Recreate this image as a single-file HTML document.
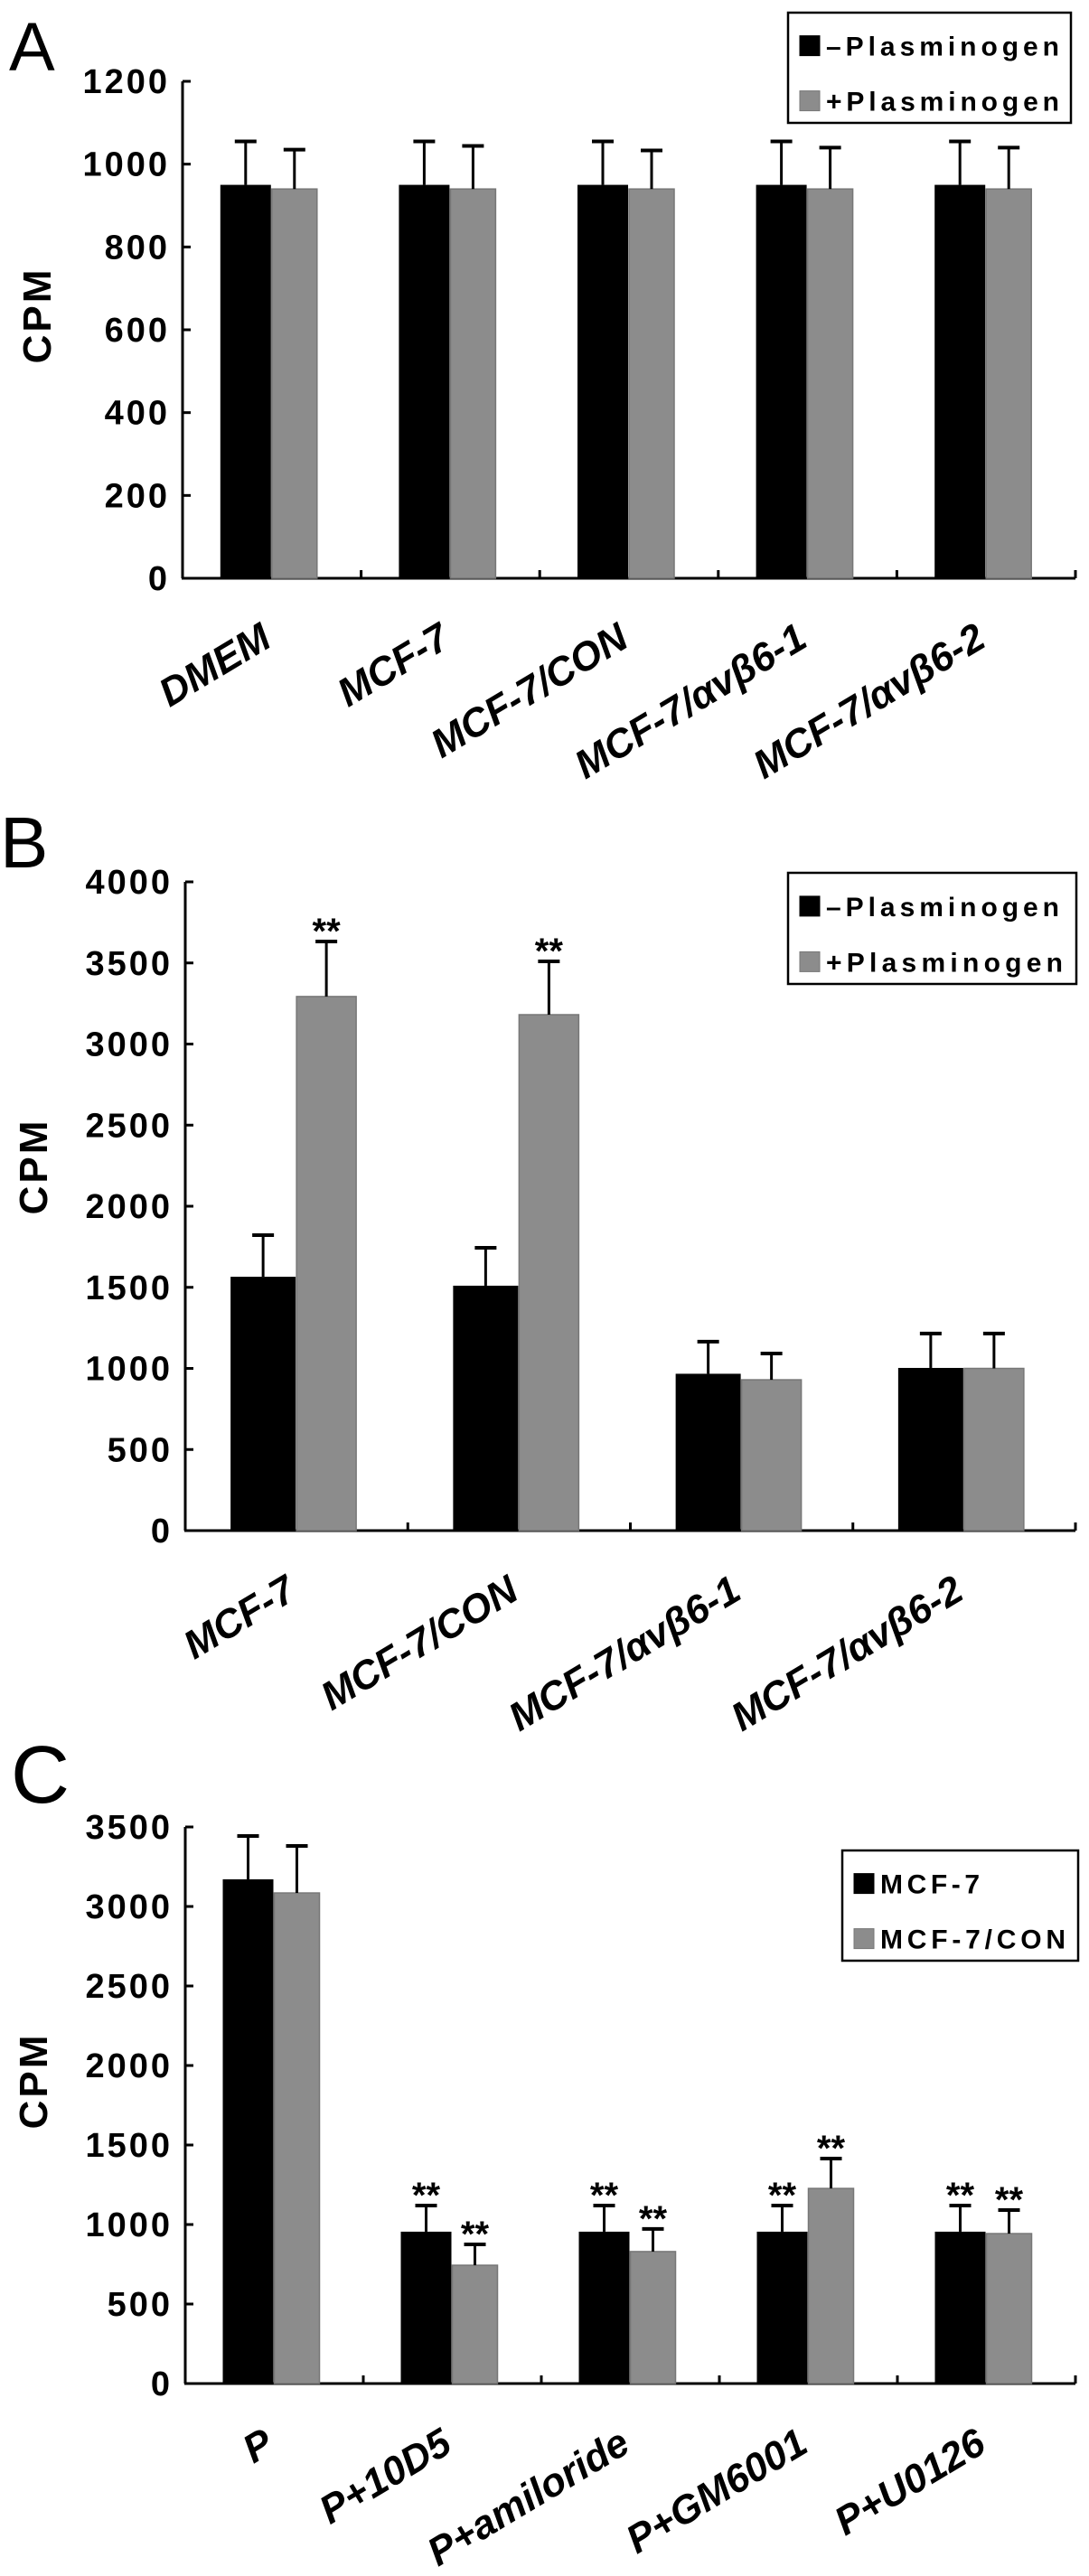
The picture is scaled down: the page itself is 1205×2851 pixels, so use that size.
<!DOCTYPE html>
<html><head><meta charset="utf-8"><style>
html,body{margin:0;padding:0;background:#fff;}
svg{display:block;font-family:"Liberation Sans",Arial,sans-serif;}
</style></head><body>
<svg id="fig" width="1205" height="2851" viewBox="0 0 1205 2851" xmlns="http://www.w3.org/2000/svg">
<text x="10" y="78" font-size="76">A</text>
<text x="0" y="960" font-size="80">B</text>
<text x="12" y="1995" font-size="90">C</text>
</svg>
<script>
// Panel A data
const catsA = ["DMEM","MCF-7","MCF-7/CON","MCF-7/\u03b1v\u03b26-1","MCF-7/\u03b1v\u03b26-2"];
const minusA = [950,950,950,950,950];
const minusErrA = [1055,1055,1055,1055,1055];
const plusA = [940,940,940,940,940];
const plusErrA = [1035,1044,1033,1040,1040];
const starsMinusA = [0,0,0,0,0];
const starsPlusA = [0,0,0,0,0];
const ticksA = [0,200,400,600,800,1000,1200];
const legendA = ["\u2013Plasminogen","+Plasminogen"];
// Panel B data
const catsB = ["MCF-7","MCF-7/CON","MCF-7/\u03b1v\u03b26-1","MCF-7/\u03b1v\u03b26-2"];
const minusB = [1565,1510,967,1003];
const minusErrB = [1822,1744,1165,1215];
const plusB = [3293,3181,930,1000];
const plusErrB = [3632,3510,1092,1215];
const starsMinusB = [0,0,0,0];
const starsPlusB = [1,1,0,0];
const ticksB = [0,500,1000,1500,2000,2500,3000,3500,4000];
const legendB = ["\u2013Plasminogen","+Plasminogen"];
// Panel C data
const catsC = ["P","P+10D5","P+amiloride","P+GM6001","P+U0126"];
const minusC = [3171,955,955,955,955];
const minusErrC = [3443,1119,1119,1119,1119];
const plusC = [3085,744,830,1227,943];
const plusErrC = [3381,875,972,1415,1091];
const starsMinusC = [0,1,1,1,1];
const starsPlusC = [0,1,1,1,1];
const ticksC = [0,500,1000,1500,2000,2500,3000,3500];
const legendC = ["MCF-7","MCF-7/CON"];

const NS="http://www.w3.org/2000/svg";
const svg=document.getElementById('fig');
function mk(tag,attrs,parent){const e=document.createElementNS(NS,tag);for(const k in attrs)e.setAttribute(k,attrs[k]);(parent||svg).appendChild(e);return e;}

function panel(p){
  const g=mk('g',{});
  
  
  const ymax=p.ticks[p.ticks.length-1];
  const y=v=>p.y0-(v/ymax)*(p.y0-p.yTop);
  const n=p.cats.length, gw=(p.xEnd-p.x0)/n;
  const cx=i=>p.x0+gw*(i+0.5);
  const ya=mk('line',{x1:p.x0,y1:p.yTop,x2:p.x0,y2:p.y0,stroke:'#000','stroke-width':3},g);
  
  
  const xa=mk('line',{x1:p.x0-1,y1:p.y0,x2:p.xEnd,y2:p.y0,stroke:'#000','stroke-width':3},g);
  
  
  p.ticks.forEach(t=>{
    mk('line',{x1:p.x0,y1:y(t),x2:p.x0+9,y2:y(t),stroke:'#000','stroke-width':3},g);
    const tl=mk('text',{x:p.x0-14,y:y(t)+13,'text-anchor':'end','font-size':38,'font-weight':'bold','letter-spacing':3},g);
    
    
    tl.textContent=t;
  });
  for(let i=1;i<=n;i++){mk('line',{x1:p.x0+gw*i,y1:p.y0,x2:p.x0+gw*i,y2:p.y0-9,stroke:'#000','stroke-width':3},g);}
  const yt=mk('text',{x:0,y:0,'text-anchor':'middle','font-size':44,'font-weight':'bold','letter-spacing':3,transform:`translate(${p.titleX},${p.titleY}) rotate(-90)`},g);
  
  
  yt.textContent='CPM';
  const bw=p.bw;
  function errbar(x,top,v){
    mk('line',{x1:x,y1:y(v),x2:x,y2:y(top),stroke:'#000','stroke-width':3},g);
    mk('line',{x1:x-12,y1:y(top),x2:x+12,y2:y(top),stroke:'#000','stroke-width':4},g);
  }
  function star(x,top){
    const s=mk('text',{x:x,y:y(top)+2,'text-anchor':'middle','font-size':40,'font-weight':'bold'},g);
    
    
    s.textContent='**';
  }
  p.cats.forEach((c,i)=>{
    const c0=cx(i);
    const b1=mk('rect',{x:c0-bw-1,y:y(p.minus[i]),width:bw,height:p.y0-y(p.minus[i]),fill:'#000'},g);
    
    
    const b2=mk('rect',{x:c0,y:y(p.plus[i]),width:bw-6,height:p.y0-y(p.plus[i]),fill:'#8c8c8c',stroke:'#777','stroke-width':1.5},g);
    
    
    errbar(c0-bw/2-1,p.minusErr[i],p.minus[i]);
    errbar(c0+bw/2-3,p.plusErr[i],p.plus[i]);
    if(p.sm[i])star(c0-bw/2-1,p.minusErr[i]);
    if(p.sp[i])star(c0+bw/2-3,p.plusErr[i]);
    const lab=mk('text',{x:0,y:0,'text-anchor':'end','font-size':44,'font-weight':'bold','font-style':'italic',transform:`translate(${c0+p.labDx},${p.y0+p.labDy}) rotate(-31)`},g);
    
    
    lab.textContent=c;
  });
  const L=p.leg;
  const lb=mk('rect',{x:L.x,y:L.y,width:L.w,height:L.h,fill:'#fff',stroke:'#000','stroke-width':2.5},g);
  
  
  p.legend.forEach((t,k)=>{
    const ey=L.y+L.h*(k===0?0.3:0.8);
    mk('rect',{x:L.x+13,y:ey-11,width:22,height:22,fill:k===0?'#000':'#8c8c8c',stroke:k===0?'#000':'#777','stroke-width':1},g);
    const lt=mk('text',{x:L.x+42,y:ey+11,'font-size':30,'font-weight':'bold',textLength:L.tw[k],lengthAdjust:'spacing'},g);
    
    
    lt.textContent=t;
  });
}

panel({name:'panel-a-chart',key:'a',cats:catsA,minus:minusA,minusErr:minusErrA,plus:plusA,plusErr:plusErrA,sm:starsMinusA,sp:starsPlusA,ticks:ticksA,legend:legendA,
  x0:202,xEnd:1190,yTop:90,y0:640,bw:56,titleX:56,titleY:349,labDx:2,labDy:74,
  leg:{x:872,y:14,w:313,h:122,tw:[258,258]}});
panel({name:'panel-b-chart',key:'b',cats:catsB,minus:minusB,minusErr:minusErrB,plus:plusB,plusErr:plusErrB,sm:starsMinusB,sp:starsPlusB,ticks:ticksB,legend:legendB,
  x0:205,xEnd:1190,yTop:976,y0:1694,bw:72,titleX:52,titleY:1291,labDx:2,labDy:74,
  leg:{x:872,y:966,w:319,h:123,tw:[258,262]}});
panel({name:'panel-c-chart',key:'c',cats:catsC,minus:minusC,minusErr:minusErrC,plus:plusC,plusErr:plusErrC,sm:starsMinusC,sp:starsPlusC,ticks:ticksC,legend:legendC,
  x0:205,xEnd:1190,yTop:2022,y0:2638,bw:56,titleX:52,titleY:2303,labDx:2,labDy:74,
  leg:{x:932,y:2048,w:261,h:122,tw:[110,205]}});
</script>
</body></html>
